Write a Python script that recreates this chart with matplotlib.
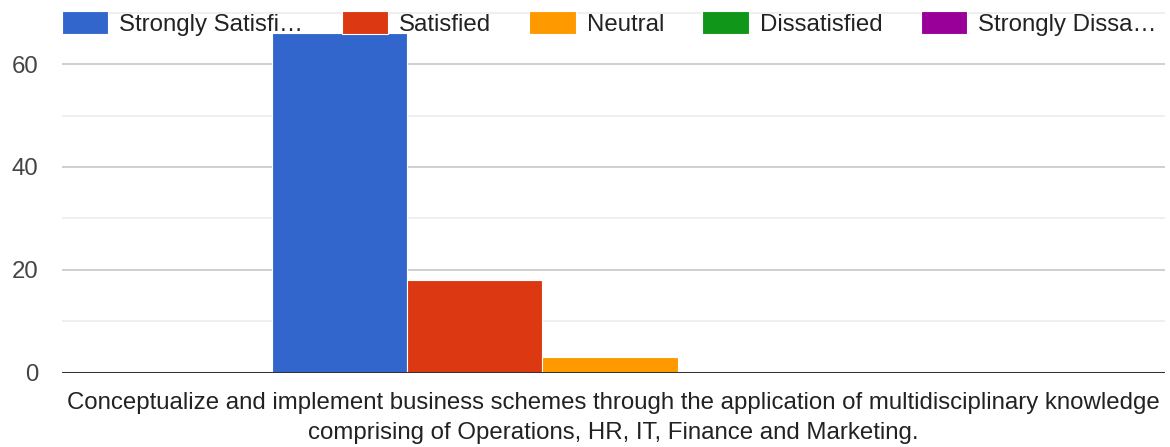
import numpy as np
from matplotlib import pyplot as plt

plt.rcParams['font.family'] = ['Liberation Sans', 'DejaVu Sans']

series = ['Strongly Satisfi…', 'Satisfied', 'Neutral', 'Dissatisfied', 'Strongly Dissa…']
values = [66, 18, 3, 0, 0]
colors = ['#3366cc', '#dc3912', '#ff9900', '#109618', '#990099']
category = ('Conceptualize and implement business schemes through the application of multidisciplinary knowledge\n'
            'comprising of Operations, HR, IT, Finance and Marketing.')
major_ticks = [0, 20, 40, 60]
minor_ticks = [10, 30, 50, 70]

fs = 17.3

fig = plt.figure(figsize=(11.7, 4.47), dpi=100)
# plot area runs off the top edge, the legend sits over it
ax = fig.add_axes([62 / 1170, 1 - 372.5 / 447, 1103 / 1170, 372.5 / 447])

# bars, grouped around one category
n = len(series)
index = np.arange(n) - (n - 1) / 2
handles = []
for i in range(n):
    b = ax.bar(index[i], values[i], 1.0, color=colors[i], edgecolor='white', linewidth=0.8,
               zorder=3, label=series[i])
    handles.append(b)

ax.set_xlim(-4.05, 4.1)
ax.set_ylim(0, 372.5 / 5.14)

# grid
for t in major_ticks[1:]:
    ax.axhline(t, color='#cccccc', lw=1.3, zorder=1)
for t in minor_ticks:
    ax.axhline(t, color='#ebebeb', lw=1.1, zorder=1)
ax.axhline(0, color='#333333', lw=2.2, zorder=4)

ax.set_yticks(major_ticks)
ax.set_yticklabels([str(t) for t in major_ticks], fontsize=fs, color='#444444')
ax.set_xticks([])
ax.tick_params(axis='y', length=0, pad=17)
for s in ax.spines.values():
    s.set_visible(False)

fig.text(613 / 1170, 1 - 418 / 447, category, ha='center', va='center', fontsize=fs,
         color='#222222', linespacing=1.45)

leg = fig.legend(handles=handles, loc='upper left', bbox_to_anchor=(62 / 1170, 1 - 11 / 447),
                 ncol=5, frameon=False, fontsize=fs, handlelength=1.92, handleheight=1.1,
                 handletextpad=0.46, columnspacing=1.6, borderpad=0, borderaxespad=0)
leg.set_zorder(10)
for t in leg.get_texts():
    t.set_color('#222222')

plt.savefig('out.png', dpi=100)
